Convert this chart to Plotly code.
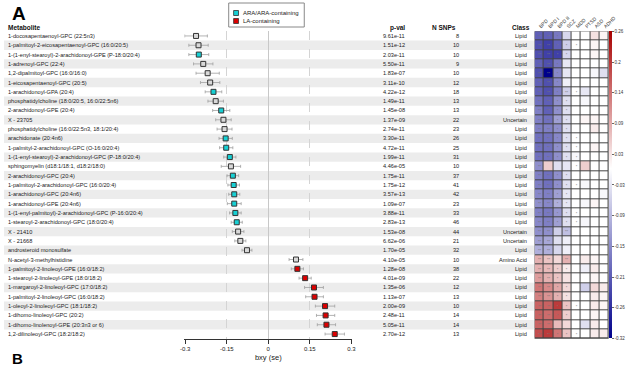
import plotly.graph_objects as go

W, H = 640, 369
FONT = "Liberation Sans"

metabolites = [
    "1-docosapentaenoyl-GPC (22:5n3)",
    "1-palmitoyl-2-eicosapentaenoyl-GPC (16:0/20:5)",
    "1-(1-enyl-stearoyl)-2-arachidonoyl-GPE (P-18:0/20:4)",
    "1-adrenoyl-GPC (22:4)",
    "1,2-dipalmitoyl-GPC (16:0/16:0)",
    "1-eicosapentaenoyl-GPC (20:5)",
    "1-arachidonoyl-GPA (20:4)",
    "phosphatidylcholine (18:0/20:5, 16:0/22:5n6)",
    "2-arachidonoyl-GPE (20:4)",
    "X - 23705",
    "phosphatidylcholine (16:0/22:5n3, 18:1/20:4)",
    "arachidonate (20:4n6)",
    "1-palmityl-2-arachidonoyl-GPC (O-16:0/20:4)",
    "1-(1-enyl-stearoyl)-2-arachidonoyl-GPC (P-18:0/20:4)",
    "sphingomyelin (d18:1/18:1, d18:2/18:0)",
    "2-arachidonoyl-GPC (20:4)",
    "1-palmitoyl-2-arachidonoyl-GPC (16:0/20:4)",
    "1-arachidonoyl-GPC (20:4n6)",
    "1-arachidonoyl-GPE (20:4n6)",
    "1-(1-enyl-palmitoyl)-2-arachidonoyl-GPC (P-16:0/20:4)",
    "1-stearoyl-2-arachidonoyl-GPC (18:0/20:4)",
    "X - 21410",
    "X - 21668",
    "androsteroid monosulfate",
    "N-acetyl-3-methylhistidine",
    "1-palmitoyl-2-linoleoyl-GPE (16:0/18:2)",
    "1-stearoyl-2-linoleoyl-GPE (18:0/18:2)",
    "1-margaroyl-2-linoleoyl-GPC (17:0/18:2)",
    "1-palmitoyl-2-linoleoyl-GPC (16:0/18:2)",
    "1-oleoyl-2-linoleoyl-GPC (18:1/18:2)",
    "1-dihomo-linoleoyl-GPC (20:2)",
    "1-dihomo-linolenoyl-GPE (20:3n3 or 6)",
    "1,2-dilinoleoyl-GPC (18:2/18:2)",
]
pvals = ["9.61e-11", "1.51e-12", "2.03e-11", "5.50e-11", "1.83e-07", "3.11e-10", "4.22e-12",
         "1.49e-11", "1.45e-08", "1.37e-09", "2.74e-11", "3.30e-11", "4.72e-11", "1.99e-11",
         "4.46e-05", "1.75e-11", "1.75e-12", "3.57e-13", "1.09e-07", "3.88e-11", "2.83e-13",
         "1.53e-08", "6.62e-06", "1.70e-05", "4.10e-05", "1.28e-08", "4.01e-09", "1.35e-06",
         "1.13e-07", "2.00e-09", "2.48e-11", "5.05e-11", "2.70e-12"]
nsnps = [8, 10, 10, 9, 10, 12, 18, 13, 13, 22, 23, 26, 25, 31, 10, 37, 41, 42, 23, 33, 46,
         44, 21, 32, 10, 38, 22, 12, 13, 10, 14, 14, 13]
classes = ["Lipid"] * 9 + ["Uncertain"] + ["Lipid"] * 11 + ["Uncertain", "Uncertain", "Lipid",
           "Amino Acid"] + ["Lipid"] * 8
beta = [-0.261, -0.252, -0.251, -0.235, -0.219, -0.210, -0.198, -0.190, -0.170, -0.162,
        -0.158, -0.154, -0.152, -0.139, -0.135, -0.128, -0.125, -0.123, -0.123, -0.119,
        -0.114, -0.109, -0.101, -0.077, 0.100, 0.105, 0.133, 0.165, 0.167, 0.205, 0.207,
        0.210, 0.240]
se = [0.041, 0.035, 0.036, 0.035, 0.042, 0.035, 0.030, 0.028, 0.031, 0.028, 0.027, 0.024,
      0.024, 0.022, 0.035, 0.021, 0.021, 0.020, 0.025, 0.021, 0.020, 0.021, 0.020, 0.018,
      0.025, 0.022, 0.022, 0.034, 0.032, 0.035, 0.033, 0.033, 0.035]
group = ["other", "other", "ARA", "other", "other", "other", "ARA", "other", "ARA", "other",
         "other", "ARA", "ARA", "ARA", "other", "ARA", "ARA", "ARA", "ARA", "ARA", "ARA",
         "other", "other", "other", "other", "LA", "LA", "LA", "LA", "LA", "LA", "LA", "LA"]

diseases = ["BPD", "BPD I", "BPD II", "SCZ", "MDD", "PTSD", "ASD", "ADHD"]
heat = [
    [-0.20, -0.20, -0.17, -0.05, 0.00, 0.00, 0.03, 0.01],
    [-0.22, -0.24, -0.20, -0.06, 0.00, 0.00, 0.01, 0.00],
    [-0.22, -0.24, -0.24, -0.05, 0.00, 0.00, 0.01, 0.00],
    [-0.20, -0.22, -0.17, -0.03, 0.00, 0.00, 0.00, 0.00],
    [-0.22, -0.32, -0.15, -0.03, 0.00, 0.00, -0.01, -0.04],
    [-0.20, -0.22, -0.15, -0.02, 0.00, 0.00, 0.00, 0.00],
    [-0.20, -0.22, -0.16, -0.06, 0.00, -0.03, 0.00, 0.00],
    [-0.18, -0.20, -0.14, -0.04, 0.00, -0.01, 0.00, 0.00],
    [-0.16, -0.20, -0.14, -0.04, 0.00, 0.00, 0.00, 0.00],
    [-0.16, -0.18, -0.12, -0.04, 0.00, 0.01, 0.01, 0.00],
    [-0.16, -0.16, -0.14, -0.04, 0.00, 0.00, 0.02, 0.00],
    [-0.18, -0.18, -0.15, -0.04, 0.00, 0.00, 0.00, 0.00],
    [-0.18, -0.18, -0.14, -0.04, 0.00, 0.00, 0.01, 0.00],
    [-0.18, -0.18, -0.14, -0.04, -0.01, 0.00, 0.00, 0.00],
    [-0.14, 0.05, -0.04, -0.03, 0.00, 0.05, 0.00, 0.00],
    [-0.16, -0.18, -0.14, -0.04, 0.00, 0.00, 0.00, 0.00],
    [-0.16, -0.18, -0.14, -0.04, 0.00, -0.01, 0.00, 0.00],
    [-0.15, -0.16, -0.12, -0.03, 0.00, 0.00, 0.00, -0.01],
    [-0.14, -0.15, -0.10, -0.03, 0.00, -0.01, 0.01, 0.00],
    [-0.16, -0.17, -0.13, -0.04, 0.00, 0.00, 0.00, 0.00],
    [-0.15, -0.16, -0.12, -0.04, 0.00, -0.01, 0.00, 0.00],
    [-0.14, -0.14, -0.06, -0.08, 0.00, 0.00, 0.00, 0.00],
    [-0.12, -0.11, -0.04, -0.02, 0.00, 0.00, 0.00, 0.00],
    [-0.10, -0.10, -0.05, -0.02, 0.00, 0.00, 0.00, 0.00],
    [0.08, 0.06, 0.04, 0.08, 0.00, 0.02, 0.01, 0.00],
    [0.08, 0.07, 0.05, 0.02, 0.00, -0.02, 0.02, 0.00],
    [0.10, 0.08, 0.06, 0.03, 0.00, 0.00, 0.01, 0.00],
    [0.14, 0.12, 0.09, 0.04, 0.00, -0.06, 0.04, 0.02],
    [0.13, 0.11, 0.08, 0.03, 0.00, 0.00, 0.02, 0.01],
    [0.16, 0.16, 0.20, 0.06, 0.00, 0.00, 0.02, 0.01],
    [0.16, 0.15, 0.17, 0.05, 0.00, 0.00, 0.01, 0.00],
    [0.16, 0.15, 0.07, 0.04, 0.00, -0.04, 0.02, 0.00],
    [0.18, 0.20, 0.14, 0.06, 0.00, 0.00, 0.02, 0.02],
]
sig_codes = ["22100000", "22111000", "22110000", "22100000", "22100000", "22100000",
             "22121000", "22110000", "22110000", "22110000", "22110000", "22111000",
             "22111000", "22111000", "20001000", "22110000", "22111000", "22110000",
             "22110000", "22111000", "22111000", "22020000", "22000000", "22000000",
             "22020000", "22110000", "22100000", "22110000", "22110000", "22111000",
             "22110000", "22000000", "22111000"]
cbar_vals = [0.26, 0.202, 0.144, 0.086, 0.028, -0.03, -0.088, -0.146, -0.204, -0.262, -0.32]
cbar_text = ["0.26", "0.2", "0.14", "0.09", "0.03", "-0.03", "-0.09", "-0.15", "-0.21", "-0.26", "-0.32"]
xticks = [-0.3, -0.15, 0, 0.15, 0.3]
xticktext = ["-0.3", "-0.15", "0", "0.15", "0.3"]


def px(x):
    return x / W


def py(y):
    return 1 - y / H


n = len(metabolites)
rows = list(range(n))
sym = {"0": "", "1": "*", "2": "**"}
sig = [[sym[c] for c in s] for s in sig_codes]

colors = {"other": "#d9d9d9", "ARA": "#17d0d4", "LA": "#dc0000"}
names = {"other": "other", "ARA": "ARA/ARA-containing", "LA": "LA-containing"}

Y0, Y1 = 0.0821, 0.9152

fig = go.Figure()
for g in ["other", "ARA", "LA"]:
    idx = [i for i in rows if group[i] == g]
    fig.add_trace(go.Scatter(
        x=[beta[i] for i in idx], y=idx, mode="markers",
        marker=dict(symbol="square", size=5, color=colors[g], line=dict(color="#333333", width=1)),
        error_x=dict(type="data", array=[se[i] for i in idx], color="#a0a0a0", thickness=0.8, width=1.5),
        showlegend=False, name=names[g], xaxis="x", yaxis="y", cliponaxis=False,
    ))

fig.add_trace(go.Heatmap(
    z=heat, x=diseases, y=rows, xaxis="x2", yaxis="y",
    zmin=-0.32, zmax=0.26,
    colorscale=[[0, "#00008b"], [0.32 / 0.58, "#ffffff"], [1, "#a80000"]],
    xgap=1, ygap=1, text=sig, texttemplate="%{text}",
    textfont=dict(size=4, color="#777777", family=FONT),
    colorbar=dict(x=px(617), xanchor="left", xpad=0, ypad=0, thickness=3,
                  len=Y1 - Y0, lenmode="fraction",
                  y=(Y0 + Y1) / 2, yanchor="middle", tickvals=cbar_vals, ticktext=cbar_text,
                  tickfont=dict(size=4.5, family=FONT, color="#333"), outlinewidth=0,
                  ticks="outside", ticklen=2, tickcolor="#666"),
    hoverinfo="skip",
))

shapes = []
for i in rows:
    if i % 2 == 1:
        shapes.append(dict(type="rect", xref="paper", yref="y", x0=0, x1=px(540),
                           y0=i - 0.5, y1=i + 0.5, fillcolor="#ececec", line=dict(width=0),
                           layer="below"))
shapes.append(dict(type="rect", xref="x2 domain", yref="y domain", x0=0, x1=1, y0=0, y1=1,
                   fillcolor="#444444", line=dict(width=0), layer="below"))
# legend box and keys
shapes.append(dict(type="rect", xref="paper", yref="paper", x0=px(229), x1=px(306),
                   y0=py(27), y1=py(3), fillcolor="white", line=dict(color="#888888", width=1)))
for k, g in enumerate(["ARA", "LA"]):
    yc = 13 + 8 * k
    shapes.append(dict(type="rect", xref="paper", yref="paper", x0=px(234), x1=px(239),
                       y0=py(yc + 2.5), y1=py(yc - 2.5), fillcolor=colors[g],
                       line=dict(color="#333333", width=0.8)))

ann = []
tf = dict(size=5.6, family=FONT, color="#222222")
for i in rows:
    ann.append(dict(x=px(2), y=i, xref="paper", yref="y", text=metabolites[i], showarrow=False,
                    xanchor="left", yanchor="middle", font=tf))
    ann.append(dict(x=px(411), y=i, xref="paper", yref="y", text=pvals[i], showarrow=False,
                    xanchor="right", yanchor="middle", font=tf))
    ann.append(dict(x=px(466), y=i, xref="paper", yref="y", text=str(nsnps[i]), showarrow=False,
                    xanchor="right", yanchor="middle", font=tf))
    ann.append(dict(x=px(535), y=i, xref="paper", yref="y", text=classes[i], showarrow=False,
                    xanchor="right", yanchor="middle", font=tf))

hf = dict(size=6.5, family=FONT, color="#111111")
ann += [
    dict(x=px(2), y=py(28), xref="paper", yref="paper", text="<b>Metabolite</b>", showarrow=False,
         xanchor="left", yanchor="middle", font=hf),
    dict(x=px(411), y=py(28), xref="paper", yref="paper", text="<b>p-val</b>", showarrow=False,
         xanchor="right", yanchor="middle", font=hf),
    dict(x=px(463), y=py(28), xref="paper", yref="paper", text="<b>N SNPs</b>", showarrow=False,
         xanchor="right", yanchor="middle", font=hf),
    dict(x=px(538), y=py(28), xref="paper", yref="paper", text="<b>Class</b>", showarrow=False,
         xanchor="right", yanchor="middle", font=hf),
    dict(x=px(6), y=py(1), xref="paper", yref="paper", text="<b>A</b>", showarrow=False,
         xanchor="left", yanchor="top", font=dict(size=19, family=FONT, color="#000")),
    dict(x=px(6), y=py(369), xref="paper", yref="paper", text="<b>B</b>", showarrow=False,
         xanchor="left", yanchor="bottom", font=dict(size=15, family=FONT, color="#000")),
]
for k, g in enumerate(["ARA", "LA"]):
    ann.append(dict(x=px(242), y=py(13 + 8 * k), xref="paper", yref="paper", text=names[g],
                    showarrow=False, xanchor="left", yanchor="middle",
                    font=dict(size=6, family=FONT, color="#222")))

ppu = (354 - 184.7) / 0.6
r0, r1 = -0.303, 0.303
d0 = 269.35 + r0 * ppu
d1 = 269.35 + r1 * ppu

fig.update_layout(
    width=W, height=H, margin=dict(l=0, r=0, t=0, b=0),
    paper_bgcolor="white", plot_bgcolor="rgba(0,0,0,0)",
    font=dict(family=FONT),
    showlegend=False,
    shapes=shapes, annotations=ann,
    xaxis=dict(domain=[px(d0), px(d1)], range=[r0, r1], anchor="y",
               tickvals=xticks, ticktext=xticktext,
               showgrid=True, gridcolor="#d4d4d4", griddash="dash", gridwidth=0.8,
               zeroline=True, zerolinecolor="#c8c8c8", zerolinewidth=1,
               showline=True, linecolor="#333333", linewidth=1,
               ticks="outside", ticklen=4, tickcolor="#333333",
               tickfont=dict(size=6, family=FONT, color="#222"),
               title=dict(text="bxy (se)", font=dict(size=7.5, family=FONT, color="#222"), standoff=3)),
    yaxis=dict(domain=[Y0, Y1], range=[n - 0.5, -0.5], showticklabels=False,
               showgrid=False, zeroline=False, showline=False, ticks=""),
    xaxis2=dict(domain=[px(540.7), px(616.2)], anchor="y", side="top", tickangle=-45,
                tickfont=dict(size=5, family=FONT, color="#333"), showgrid=False,
                zeroline=False, ticks="", showline=False),
)

fig.write_html("out.html", config={"displayModeBar": False},
               post_script="document.body.style.margin='0';document.body.style.overflow='hidden';")
